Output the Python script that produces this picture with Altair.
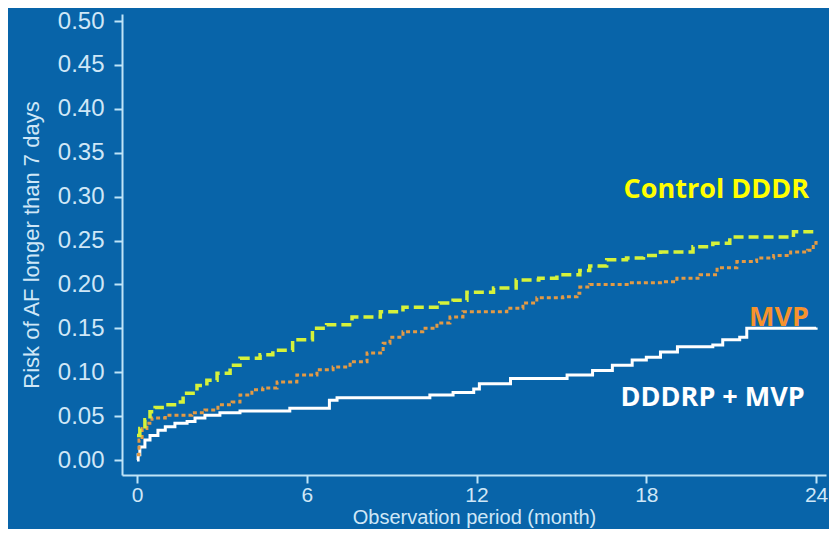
import altair as alt
import pandas as pd

# ---- data (month, cumulative risk) ----
ctrl_month = [0, 0.1, 0.28, 0.46, 0.64, 1.0, 1.41, 1.63, 2.12, 2.47, 2.83, 3.29, 3.64, 4.35, 4.8, 5.5,
              6.2, 6.7, 7.6, 8.6, 9.4, 10.7, 11.17, 11.66, 12.6, 13.4, 14.2, 14.84, 15.65, 16.0, 16.6,
              17.3, 17.9, 18.5, 19.4, 19.65, 20.35, 20.95, 22.8, 23.2, 24.0]
ctrl_risk = [0.028, 0.036, 0.046, 0.055, 0.060, 0.063, 0.066, 0.076, 0.085, 0.091, 0.099, 0.108, 0.116,
             0.120, 0.125, 0.137, 0.150, 0.154, 0.163, 0.169, 0.174, 0.179, 0.182, 0.191, 0.196, 0.205,
             0.207, 0.211, 0.216, 0.221, 0.228, 0.230, 0.233, 0.237, 0.237, 0.243, 0.247, 0.254, 0.254,
             0.260, 0.262]

mvp_month = [0, 0.07, 0.18, 0.35, 0.53, 1.0, 1.94, 2.4, 2.86, 3.36, 3.64, 4.06, 4.45, 4.95, 5.65, 6.36,
             6.93, 7.53, 8.13, 8.7, 8.94, 9.4, 10.1, 10.6, 11.06, 11.52, 12.72, 13.07, 13.64, 14.13,
             15.05, 15.55, 15.65, 16.0, 17.4, 18.6, 19.08, 19.9, 20.5, 21.2, 21.9, 22.5, 23.1, 23.7,
             23.9, 24.0]
mvp_risk = [0.006, 0.023, 0.036, 0.042, 0.048, 0.051, 0.054, 0.057, 0.063, 0.066, 0.074, 0.080, 0.082,
            0.089, 0.097, 0.103, 0.106, 0.112, 0.122, 0.133, 0.140, 0.146, 0.150, 0.156, 0.163, 0.169,
            0.169, 0.173, 0.179, 0.185, 0.186, 0.190, 0.197, 0.200, 0.202, 0.203, 0.207, 0.211, 0.219,
            0.226, 0.230, 0.233, 0.237, 0.239, 0.247, 0.251]

dddrp_month = [0, 0.04, 0.1, 0.28, 0.46, 0.74, 1.0, 1.34, 1.77, 2.05, 2.4, 2.93, 3.64, 5.4, 6.8, 7.07,
               10.35, 11.17, 11.9, 12.1, 13.2, 15.2, 16.1, 16.8, 17.5, 18.0, 18.5, 19.1, 20.35, 20.7,
               21.3, 21.55, 24.0]
dddrp_risk = [0.0, 0.006, 0.015, 0.023, 0.028, 0.034, 0.038, 0.042, 0.044, 0.048, 0.051, 0.054, 0.056,
              0.059, 0.068, 0.071, 0.074, 0.077, 0.081, 0.087, 0.093, 0.097, 0.102, 0.108, 0.114, 0.117,
              0.123, 0.129, 0.131, 0.137, 0.140, 0.150, 0.151]

label_text = ["Control DDDR", "MVP", "DDDRP + MVP"]
label_month = [23.75, 23.75, 23.6]
label_risk = [0.307, 0.162, 0.0706]
label_color = ["#FFFF00", "#F7922E", "#FFFFFF"]

x_ticks = [0, 6, 12, 18, 24]
y_ticks = [0.0, 0.05, 0.10, 0.15, 0.20, 0.25, 0.30, 0.35, 0.40, 0.45, 0.50]

BG = "#0864A9"
AXIS = "#BFE4F8"
LABEL = "#CFE7F7"

ctrl = pd.DataFrame({"month": ctrl_month, "risk": ctrl_risk})
mvp = pd.DataFrame({"month": mvp_month, "risk": mvp_risk})
dddrp = pd.DataFrame({"month": dddrp_month, "risk": dddrp_risk})
labels = pd.DataFrame({"text": label_text, "month": label_month, "risk": label_risk, "color": label_color})

xscale = alt.Scale(domain=[-0.53, 24.35], nice=False, zero=False)
yscale = alt.Scale(domain=[-0.017, 0.508], nice=False, zero=False)

xaxis = alt.Axis(values=x_ticks, title="Observation period (month)", grid=False, format="d",
                 tickSize=8, labelPadding=1, titlePadding=2, labelFontSize=21, titleFontSize=20)
yaxis = alt.Axis(values=y_ticks, title="Risk of AF longer than 7 days", grid=False, format=".2f",
                 tickSize=8, labelPadding=10, titlePadding=14, labelFontSize=24, titleFontSize=22)

def line(df, color, dash, width):
    kw = dict(interpolate="step-after", color=color, strokeWidth=width)
    if dash:
        kw["strokeDash"] = dash
    return alt.Chart(df).mark_line(**kw).encode(
        x=alt.X("month:Q", scale=xscale, axis=xaxis),
        y=alt.Y("risk:Q", scale=yscale, axis=yaxis),
    )

white = line(dddrp, "#FFFFFF", None, 3)
orange = line(mvp, "#E39A45", [4, 3], 3)
yellow = line(ctrl, "#D6F23A", [10, 5], 3.5)

text = alt.Chart(labels).mark_text(
    align="right", baseline="middle", font="Open Sans", fontWeight="bold", fontSize=27
).encode(
    x=alt.X("month:Q", scale=xscale),
    y=alt.Y("risk:Q", scale=yscale),
    text="text:N",
    color=alt.Color("color:N", scale=None),
)

chart = alt.layer(white, orange, yellow, text).properties(
    width=704, height=461,
    background=BG,
    autosize=alt.AutoSizeParams(type="none"),
    padding={"left": 114, "top": 6, "right": 3, "bottom": 54},
).configure_view(stroke=None).configure_axis(
    domainColor=AXIS, domainWidth=2, tickColor=AXIS, tickWidth=2,
    labelColor=LABEL, titleColor=LABEL, labelFont="Liberation Sans", titleFont="Liberation Sans",
    titleFontWeight="normal",
)

chart.save("out.html", embed_options={"renderer": "svg", "actions": False})
